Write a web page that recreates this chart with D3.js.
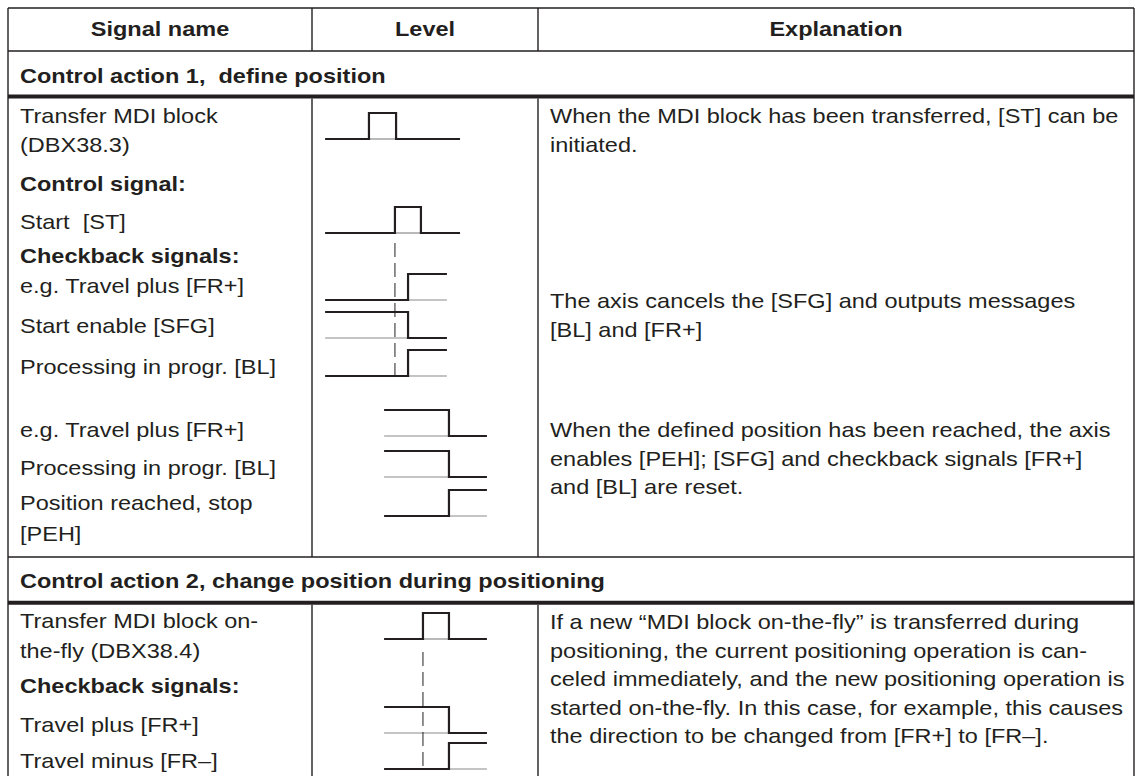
<!DOCTYPE html>
<html><head><meta charset="utf-8">
<script src="https://cdn.jsdelivr.net/npm/d3@7"></script>
<style>body{margin:0;background:#fff}svg{display:block}text{font-family:"Liberation Sans",Arial,sans-serif;fill:#231f20;white-space:pre}</style>
</head><body><svg id="c" width="1135" height="776"></svg>
<script>
// ---------- data ----------
const headers = ["Signal name", "Level", "Explanation"];
const sectionTitles = ["Control action 1,  define position", "Control action 2, change position during positioning"];

const signalLines1 = [
  {t: "Transfer MDI block", b: false},
  {t: "(DBX38.3)", b: false},
  {t: "Control signal:", b: true},
  {t: "Start  [ST]", b: false},
  {t: "Checkback signals:", b: true},
  {t: "e.g. Travel plus [FR+]", b: false},
  {t: "Start enable [SFG]", b: false},
  {t: "Processing in progr. [BL]", b: false},
  {t: "e.g. Travel plus [FR+]", b: false},
  {t: "Processing in progr. [BL]", b: false},
  {t: "Position reached, stop", b: false},
  {t: "[PEH]", b: false}
];
const signalLines2 = [
  {t: "Transfer MDI block on-", b: false},
  {t: "the-fly (DBX38.4)", b: false},
  {t: "Checkback signals:", b: true},
  {t: "Travel plus [FR+]", b: false},
  {t: "Travel minus [FR\u2013]", b: false}
];
const explanation1a = ["When the MDI block has been transferred, [ST] can be", "initiated."];
const explanation1b = ["The axis cancels the [SFG] and outputs messages", "[BL] and [FR+]"];
const explanation1c = ["When the defined position has been reached, the axis", "enables [PEH]; [SFG] and checkback signals [FR+]", "and [BL] are reset."];
const explanation2 = ["If a new \u201CMDI block on-the-fly\u201D is transferred during", "positioning, the current positioning operation is can-", "celed immediately, and the new positioning operation is", "started on-the-fly. In this case, for example, this causes", "the direction to be changed from [FR+] to [FR\u2013]."];

// waveforms: time from start to end, initial level, edge times (time units 0..100 across Level column)
const waves1 = [
  {name: "MDI", start: 5.8, end: 65.5, init: 0, edges: [25.2, 37.2]},
  {name: "ST", start: 5.8, end: 65.5, init: 0, edges: [36.7, 48.2]},
  {name: "FR+", start: 5.8, end: 59.7, init: 0, edges: [42.5]},
  {name: "SFG", start: 5.8, end: 59.7, init: 1, edges: [42.5]},
  {name: "BL", start: 5.8, end: 59.7, init: 0, edges: [42.5]},
  {name: "FR+", start: 31.9, end: 77.4, init: 1, edges: [60.6]},
  {name: "BL", start: 31.9, end: 77.4, init: 1, edges: [60.6]},
  {name: "PEH", start: 31.9, end: 77.4, init: 0, edges: [60.6]}
];
const waves2 = [
  {name: "MDI fly", start: 31.9, end: 77.4, init: 0, edges: [49.1, 60.6]},
  {name: "FR+", start: 31.9, end: 77.4, init: 1, edges: [60.6]},
  {name: "FR-", start: 31.9, end: 77.4, init: 0, edges: [60.6]}
];
const markers = [36.7, 49.1];

// ---------- layout ----------
const W = 1135, H = 776;
const colX = [8, 312, 538, 1134];
const lineY = {top: 8, head: 51, thick1: 96.5, sep: 557, thick2: 602.7};
const SX = 1.12, FS = 21;
const ink = "#231f20";

const svg = d3.select("#c");
const t = d3.scaleLinear().domain([0, 100]).range([colX[1], colX[2]]);
const lvl = d3.scaleLinear().domain([0, 1]).range([0, -26]);

function txt(str, x, y, bold, anchor) {
  svg.append("text")
    .attr("transform", `translate(${x},${y}) scale(${SX},1)`)
    .attr("text-anchor", anchor || "start")
    .attr("font-size", FS)
    .attr("font-weight", bold ? "bold" : "normal")
    .attr("xml:space", "preserve")
    .text(str);
}
function hline(y, x0, x1, w) {
  svg.append("line").attr("x1", x0).attr("x2", x1).attr("y1", y).attr("y2", y)
    .attr("stroke", ink).attr("stroke-width", w);
}
function vline(x, y0, y1, w) {
  svg.append("line").attr("x1", x).attr("x2", x).attr("y1", y0).attr("y2", y1)
    .attr("stroke", ink).attr("stroke-width", w);
}

// table rules
hline(lineY.top, colX[0], colX[3], 1.4);
hline(lineY.head, colX[0], colX[3], 1.4);
hline(lineY.thick1, colX[0], colX[3], 4);
hline(lineY.sep, colX[0], colX[3], 1.4);
hline(lineY.thick2, colX[0], colX[3], 4);
vline(colX[0], lineY.top, H, 1.4);
vline(colX[3], lineY.top, H, 1.4);
[colX[1], colX[2]].forEach(x => {
  vline(x, lineY.top, lineY.head, 1.4);
  vline(x, lineY.thick1 + 2, lineY.sep, 1.4);
  vline(x, lineY.thick2 + 2, H, 1.4);
});

// header
const headBase = 36;
headers.forEach((h, i) => txt(h, (colX[i] + colX[i + 1]) / 2, headBase, true, "middle"));
// section titles
txt(sectionTitles[0], 20, 83, true);
txt(sectionTitles[1], 20, 588, true);

// signal names
const padX = colX[0] + 12;
const sig1Y = [123, 152, 191, 229, 263, 293, 333, 374, 437, 475, 510, 541];
signalLines1.forEach((d, i) => txt(d.t, padX, sig1Y[i], d.b));
const sig2Y = [628, 658, 693, 732, 768];
signalLines2.forEach((d, i) => txt(d.t, padX, sig2Y[i], d.b));

// explanations
const exX = colX[2] + 12, LH = 28.6;
explanation1a.forEach((s, i) => txt(s, exX, 123 + i * LH, false));
explanation1b.forEach((s, i) => txt(s, exX, 308 + i * LH, false));
explanation1c.forEach((s, i) => txt(s, exX, 437 + i * LH, false));
explanation2.forEach((s, i) => txt(s, exX, 629 + i * LH, false));

// waveforms
const wave1Low = [139, 233, 300, 338, 376, 436, 477, 516];
const wave2Low = [639, 733, 769];
function drawWave(w, yLow) {
  const pts = [];
  let level = w.init;
  pts.push([w.start, level]);
  w.edges.forEach(e => { pts.push([e, level]); level = 1 - level; pts.push([e, level]); });
  pts.push([w.end, level]);
  let cur = w.init, x0 = w.start;
  const bounds = w.edges.concat([w.end]);
  bounds.forEach(b => {
    if (cur === 1) {
      svg.append("line").attr("x1", t(x0)).attr("x2", t(b)).attr("y1", yLow).attr("y2", yLow)
        .attr("stroke", "#8a8a8a").attr("stroke-width", 1.2);
    }
    cur = 1 - cur; x0 = b;
  });
  const line = d3.line().x(d => t(d[0])).y(d => yLow + lvl(d[1]));
  svg.append("path").attr("d", line(pts)).attr("fill", "none")
    .attr("stroke", ink).attr("stroke-width", 2.2).attr("stroke-linejoin", "miter");
}
waves1.forEach((w, i) => drawWave(w, wave1Low[i]));
waves2.forEach((w, i) => drawWave(w, wave2Low[i]));

// dashed markers
const markerSpan = [[243, 381], [652, 771]];
markers.forEach((m, i) => {
  svg.append("line").attr("x1", t(m)).attr("x2", t(m)).attr("y1", markerSpan[i][0]).attr("y2", markerSpan[i][1])
    .attr("stroke", ink).attr("stroke-width", 1).attr("stroke-dasharray", "14,6");
});
</script></body></html>
